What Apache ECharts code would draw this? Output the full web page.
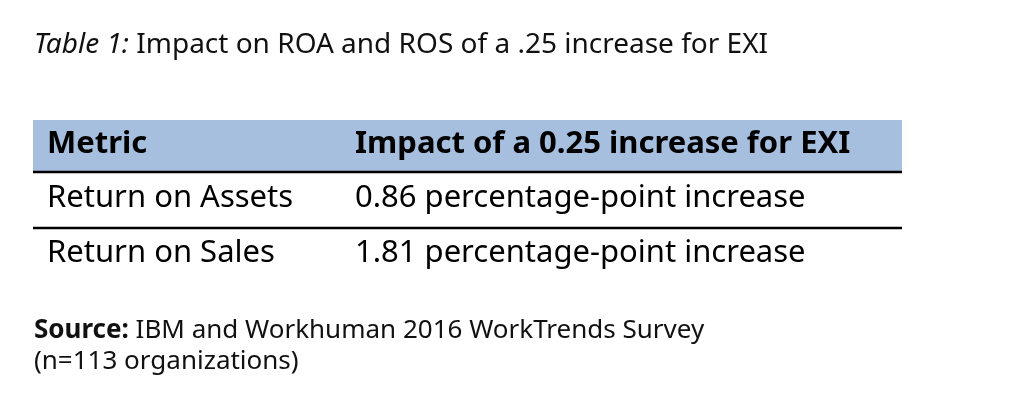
<!DOCTYPE html>
<html><head><meta charset="utf-8">
<script src="https://cdn.jsdelivr.net/npm/echarts@6/dist/echarts.min.js"></script>
<style>html,body{margin:0;padding:0;background:#fff}#c{width:1024px;height:417px}</style>
</head><body><div id="c"></div>
<script>
const titlePrefix = "Table 1:";
const titleText = " Impact on ROA and ROS of a .25 increase for EXI";
const headers = ["Metric", "Impact of a 0.25 increase for EXI"];
const metrics = ["Return on Assets", "Return on Sales"];
const impacts = ["0.86 percentage-point increase", "1.81 percentage-point increase"];
const sourceLabel = "Source:";
const sourceLines = [" IBM and Workhuman 2016 WorkTrends Survey", "(n=113 organizations)"];

const F = "'Noto Sans', 'Open Sans', sans-serif";
const chart = echarts.init(document.getElementById('c'));
const g = [];
g.push({type:'text', left:34, top:31, style:{text:'{i|'+titlePrefix+'}{n|'+titleText+'}', rich:{i:{fontStyle:'italic',fontSize:28,fontFamily:F,fill:'#111'},n:{fontSize:28,fontFamily:F,fill:'#111'}}}});
g.push({type:'rect', shape:{x:33,y:120,width:869,height:52}, style:{fill:'#a7bfdf'}});
g.push({type:'text', left:47, top:129, style:{text:headers[0], font:'bold 31px '+F, fill:'#000'}});
g.push({type:'text', left:355, top:129, style:{text:headers[1], font:'bold 31px '+F, fill:'#000'}});
const rowTop = [183, 238];
const lines = [172, 228];
lines.forEach(y => g.push({type:'line', shape:{x1:33,y1:y,x2:902,y2:y}, style:{stroke:'#000',lineWidth:2.5}}));
metrics.forEach((m,i)=>{
  g.push({type:'text', left:47, top:rowTop[i], style:{text:m, font:'31px '+F, fill:'#000'}});
  g.push({type:'text', left:355, top:rowTop[i], style:{text:impacts[i], font:'31px '+F, fill:'#000'}});
});
g.push({type:'text', left:34, top:318, style:{text:'{b|'+sourceLabel+'}{n|'+sourceLines[0]+'}', rich:{b:{fontWeight:'bold',fontSize:26,fontFamily:F,fill:'#111'},n:{fontSize:26,fontFamily:F,fill:'#111'}}}});
g.push({type:'text', left:34, top:349, style:{text:sourceLines[1], font:'26px '+F, fill:'#111'}});
chart.setOption({animation:false, graphic:g});
</script></body></html>
